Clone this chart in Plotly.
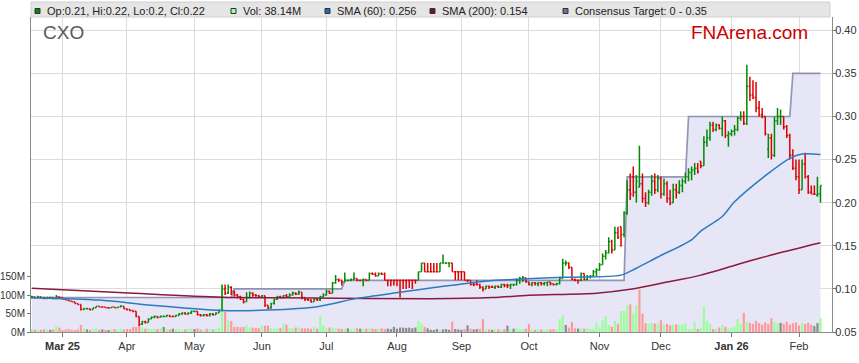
import pandas as pd
import plotly.graph_objects as go

# ---------------- data ----------------
dates = pd.bdate_range("2025-02-17", "2026-02-11")

opens = [
    .090, .091, .090, .091, .090, .089, .090, .090, .089, .091,
    .090, .088, .087, .086, .085, .083, .082, .076, .077, .077,
    .076, .078, .080, .079, .079, .078, .078, .079, .078, .079,
    .080, .077, .076, .075, .074, .068, .059, .062, .061, .065,
    .067, .068, .067, .068, .068, .069, .068, .068, .069, .071,
    .072, .071, .072, .074, .074, .070, .069, .070, .069, .071,
    .070, .072, .075, .100, .095, .102, .097, .093, .091, .088,
    .085, .090, .095, .093, .092, .091, .092, .081, .078, .083,
    .088, .091, .090, .092, .091, .093, .095, .094, .096, .090,
    .088, .087, .085, .088, .087, .091, .093, .097, .095, .107,
    .111, .110, .108, .110, .110, .111, .112, .110, .110, .111,
    .110, .118, .117, .115, .118, .117, .110, .110, .110, .110,
    .110, .110, .110, .110, .110, .110, .110, .120, .130, .120,
    .120, .120, .120, .120, .130, .130, .130, .130, .120, .120,
    .120, .120, .110, .110, .105, .105, .105, .102, .100, .103,
    .102, .102, .103, .102, .105, .104, .104, .105, .105, .110,
    .112, .113, .108, .105, .107, .106, .107, .106, .107, .108,
    .106, .105, .106, .112, .130, .130, .125, .111, .110, .110,
    .118, .111, .114, .115, .120, .122, .128, .138, .142, .155,
    .145, .165, .172, .163, .188, .215, .230, .212, .218, .222,
    .205, .200, .212, .225, .215, .228, .210, .222, .205, .200,
    .215, .212, .220, .225, .230, .235, .238, .240, .248, .243,
    .270, .275, .290, .285, .290, .286, .295, .278, .280, .283,
    .285, .298, .300, .292, .335, .325, .322, .310, .302, .300,
    .262, .275, .255, .295, .300, .300, .288, .278, .255, .240,
    .230, .215, .245, .230, .212, .210, .209, .210,
]
highs = [
    .092, .091, .092, .091, .091, .091, .091, .090, .093, .091,
    .090, .088, .087, .086, .085, .083, .082, .078, .078, .077,
    .078, .080, .080, .080, .079, .079, .079, .079, .079, .081,
    .080, .077, .076, .075, .074, .068, .063, .063, .066, .068,
    .069, .068, .069, .069, .070, .069, .069, .070, .072, .073,
    .073, .073, .075, .075, .074, .071, .071, .071, .072, .072,
    .073, .076, .105, .105, .105, .103, .098, .094, .092, .089,
    .096, .097, .096, .094, .093, .093, .092, .081, .084, .089,
    .092, .092, .093, .094, .095, .097, .096, .098, .096, .090,
    .089, .088, .089, .089, .092, .095, .099, .098, .108, .116,
    .112, .111, .119, .111, .112, .119, .112, .111, .112, .111,
    .119, .119, .119, .119, .119, .119, .111, .111, .110, .110,
    .110, .110, .110, .110, .110, .111, .120, .130, .130, .130,
    .130, .130, .130, .130, .140, .131, .130, .130, .120, .120,
    .120, .120, .111, .110, .108, .110, .106, .103, .104, .104,
    .104, .104, .104, .106, .106, .106, .106, .106, .112, .114,
    .115, .113, .108, .108, .108, .108, .108, .108, .108, .108,
    .106, .107, .114, .135, .133, .131, .125, .112, .111, .119,
    .118, .116, .116, .122, .124, .130, .141, .145, .160, .157,
    .172, .172, .172, .190, .226, .234, .242, .232, .266, .234,
    .212, .215, .232, .234, .232, .230, .228, .225, .215, .222,
    .222, .226, .228, .235, .240, .242, .246, .246, .248, .277,
    .285, .294, .294, .292, .291, .300, .296, .283, .285, .290,
    .300, .306, .306, .360, .346, .342, .340, .318, .310, .300,
    .280, .280, .300, .310, .308, .300, .290, .280, .262, .250,
    .250, .250, .258, .232, .220, .220, .230, .220,
]
lows = [
    .089, .089, .089, .089, .088, .089, .089, .088, .088, .089,
    .088, .087, .086, .085, .083, .082, .075, .076, .076, .075,
    .076, .078, .079, .078, .078, .077, .078, .078, .078, .079,
    .077, .075, .074, .073, .067, .057, .058, .060, .061, .065,
    .066, .066, .067, .067, .068, .067, .067, .068, .069, .070,
    .070, .070, .071, .073, .069, .068, .068, .068, .068, .069,
    .070, .072, .074, .093, .094, .093, .091, .089, .087, .083,
    .085, .089, .091, .091, .090, .090, .079, .076, .077, .082,
    .087, .089, .089, .090, .090, .092, .093, .093, .088, .086,
    .086, .084, .085, .086, .086, .090, .092, .094, .095, .106,
    .108, .104, .108, .109, .109, .110, .109, .109, .103, .109,
    .110, .116, .114, .115, .116, .110, .103, .103, .104, .103,
    .090, .100, .100, .101, .100, .106, .110, .120, .120, .120,
    .120, .120, .120, .120, .130, .129, .125, .120, .110, .110,
    .110, .110, .108, .104, .103, .104, .100, .097, .100, .100,
    .101, .100, .101, .101, .102, .101, .100, .103, .104, .106,
    .108, .107, .104, .103, .104, .103, .104, .104, .103, .104,
    .104, .104, .105, .112, .127, .123, .110, .109, .106, .109,
    .110, .110, .112, .114, .115, .121, .128, .134, .141, .141,
    .145, .158, .149, .160, .186, .203, .207, .200, .218, .200,
    .195, .198, .208, .210, .212, .205, .208, .200, .197, .200,
    .205, .210, .212, .222, .225, .226, .232, .234, .240, .243,
    .265, .272, .282, .283, .285, .277, .275, .265, .277, .278,
    .283, .295, .290, .290, .318, .320, .305, .300, .298, .278,
    .252, .250, .253, .290, .290, .285, .275, .250, .238, .226,
    .210, .215, .228, .210, .210, .209, .207, .200,
]
closes = [
    .091, .090, .091, .090, .089, .090, .090, .089, .091, .090,
    .088, .087, .086, .085, .083, .082, .076, .077, .077, .076,
    .078, .080, .079, .079, .078, .078, .079, .078, .079, .080,
    .077, .076, .075, .074, .068, .059, .062, .061, .065, .067,
    .068, .067, .068, .068, .069, .068, .068, .069, .071, .072,
    .071, .072, .074, .074, .070, .069, .070, .069, .071, .070,
    .072, .075, .100, .095, .102, .097, .093, .091, .088, .085,
    .090, .095, .093, .092, .091, .092, .081, .078, .083, .088,
    .091, .090, .092, .091, .093, .095, .094, .096, .090, .088,
    .087, .085, .088, .087, .091, .093, .097, .095, .107, .111,
    .110, .108, .110, .110, .111, .112, .110, .110, .111, .110,
    .118, .117, .115, .118, .117, .110, .110, .110, .110, .110,
    .110, .110, .110, .110, .110, .110, .120, .130, .120, .120,
    .120, .120, .120, .130, .130, .130, .130, .120, .120, .120,
    .120, .110, .110, .105, .105, .105, .102, .100, .103, .102,
    .102, .103, .102, .105, .104, .104, .105, .105, .110, .112,
    .113, .108, .105, .107, .106, .107, .106, .107, .108, .106,
    .105, .106, .112, .130, .130, .125, .111, .110, .110, .118,
    .111, .114, .115, .120, .122, .128, .138, .142, .155, .145,
    .165, .160, .163, .188, .215, .210, .212, .225, .222, .205,
    .200, .212, .225, .215, .228, .210, .222, .205, .200, .215,
    .212, .220, .225, .230, .235, .238, .240, .236, .243, .270,
    .275, .290, .285, .290, .286, .295, .278, .280, .283, .285,
    .298, .300, .292, .335, .325, .322, .310, .302, .300, .280,
    .275, .255, .295, .300, .300, .288, .278, .255, .240, .230,
    .215, .245, .230, .212, .210, .210, .210, .220,
]
volumes_m = [
    8, 6, 5, 6, 7, 5, 6, 7, 16, 12,
    6, 7, 8, 6, 5, 7, 19, 9, 7, 6,
    8, 9, 6, 7, 6, 5, 7, 8, 6, 9,
    7, 8, 8, 14, 14, 19, 12, 9, 10, 8,
    9, 8, 10, 14, 8, 7, 9, 8, 7, 6,
    7, 8, 9, 8, 10, 7, 6, 9, 8, 7,
    8, 12, 127, 55, 32, 30, 14, 14, 13, 14,
    19, 12, 12, 11, 10, 17, 17, 17, 10, 10,
    10, 11, 23, 20, 11, 10, 12, 12, 10, 10,
    10, 9, 14, 9, 43, 19, 10, 12, 12, 10,
    9, 8, 9, 10, 8, 9, 10, 9, 8, 9,
    10, 9, 8, 9, 10, 8, 9, 8, 14, 9,
    12, 12, 11, 12, 10, 12, 30, 23, 14, 10,
    6, 5, 8, 6, 7, 8, 6, 28, 8, 7,
    6, 8, 18, 9, 7, 8, 9, 35, 8, 7,
    6, 8, 7, 6, 8, 17, 7, 9, 10, 8,
    8, 9, 22, 7, 6, 8, 7, 6, 8, 7,
    8, 7, 35, 46, 19, 12, 27, 10, 9, 10,
    9, 10, 8, 9, 25, 12, 32, 43, 19, 14,
    30, 22, 57, 57, 73, 75, 50, 73, 115, 50,
    24, 22, 25, 23, 22, 32, 20, 22, 18, 20,
    21, 19, 20, 22, 8, 8, 28, 8, 12, 68,
    30, 22, 8, 8, 12, 19, 14, 10, 12, 14,
    35, 22, 52, 28, 25, 22, 30, 24, 20, 26,
    22, 37, 28, 24, 25, 22, 28, 20, 24, 26,
    18, 24, 22, 25, 20, 16, 24, 38.14,
]

sma60_dates = ["2025-02-17", "2025-03-19", "2025-04-11", "2025-05-14", "2025-06-04",
               "2025-06-26", "2025-07-15", "2025-08-04", "2025-08-18", "2025-09-11",
               "2025-10-16", "2025-11-12", "2025-11-19", "2025-11-28", "2025-12-15",
               "2025-12-18", "2025-12-29", "2026-01-02", "2026-01-19", "2026-01-28",
               "2026-02-03", "2026-02-11"]
sma60_values = [0.0898, 0.087, 0.081, 0.075, 0.0755,
                0.0794, 0.089, 0.096, 0.101, 0.109,
                0.1135, 0.116, 0.124, 0.137, 0.157,
                0.167, 0.184, 0.201, 0.234, 0.2515,
                0.2565, 0.256]

sma200_dates = ["2025-02-17", "2025-03-31", "2025-05-14", "2025-06-23", "2025-08-18",
                "2025-09-15", "2025-10-01", "2025-10-31", "2025-11-17", "2025-12-01",
                "2025-12-18", "2026-01-12", "2026-01-26", "2026-02-11"]
sma200_values = [0.1007, 0.0955, 0.0903, 0.0895, 0.0887,
                 0.090, 0.0925, 0.095, 0.0995, 0.1065,
                 0.116, 0.1335, 0.143, 0.1536]

target_dates = ["2025-02-17", "2025-05-19", "2025-05-20", "2025-07-08", "2025-07-09",
                "2025-11-13", "2025-11-14", "2025-12-11", "2025-12-12", "2026-01-28",
                "2026-01-29", "2026-02-11"]
target_values = [0.09, 0.09, 0.10, 0.10, 0.11,
                 0.11, 0.23, 0.23, 0.30, 0.30,
                 0.35, 0.35]

price_ticks = [0.05, 0.10, 0.15, 0.20, 0.25, 0.30, 0.35, 0.40]
vol_ticks = [0, 50, 100, 150]
vol_tick_labels = ["0M", "50M", "100M", "150M"]
month_ticks = ["2025-03-03", "2025-04-01", "2025-05-01", "2025-06-02", "2025-07-01",
               "2025-08-01", "2025-09-01", "2025-10-01", "2025-11-03", "2025-12-01",
               "2026-01-01", "2026-02-02"]
month_labels = ["<b>Mar 25</b>", "Apr", "May", "Jun", "Jul", "Aug", "Sep", "Oct",
                "Nov", "Dec", "<b>Jan 26</b>", "Feb"]

n = len(dates)
for name, arr in [("opens", opens), ("highs", highs), ("lows", lows),
                  ("closes", closes), ("volumes_m", volumes_m)]:
    if len(arr) != n:
        raise ValueError(f"{name} has {len(arr)} values, expected {n}")

# ---------------- styling ----------------
FONT = "Arial, Liberation Sans, sans-serif"
UP = "#008a00"
DOWN = "#dd0000"
VOL_UP = "#99ff99"
VOL_DOWN = "#ff9999"
VOL_FLAT = "#8a8a8a"

vol_colors = []
for i in range(n):
    prev = closes[i - 1] if i > 0 else opens[0]
    if closes[i] > prev + 1e-9:
        vol_colors.append(VOL_UP)
    elif closes[i] < prev - 1e-9:
        vol_colors.append(VOL_DOWN)
    else:
        vol_colors.append(VOL_FLAT)

fig = go.Figure()

fig.add_trace(go.Scatter(
    x=target_dates, y=target_values, mode="lines", yaxis="y",
    line=dict(color="rgba(110,110,158,0.7)", width=1.7),
    fill="tozeroy", fillcolor="#e6e6f6", hoverinfo="skip", showlegend=False))

fig.add_trace(go.Bar(
    x=dates, y=volumes_m, yaxis="y2", marker=dict(color=vol_colors, line=dict(width=0)),
    hoverinfo="skip", showlegend=False))

fig.add_trace(go.Scatter(
    x=sma200_dates, y=sma200_values, mode="lines", yaxis="y3",
    line=dict(color="#8b1a40", width=1.5, shape="spline", smoothing=0.8),
    hoverinfo="skip", showlegend=False))

fig.add_trace(go.Scatter(
    x=sma60_dates, y=sma60_values, mode="lines", yaxis="y3",
    line=dict(color="#2a7cc0", width=1.5, shape="spline", smoothing=0.8),
    hoverinfo="skip", showlegend=False))

fig.add_trace(go.Ohlc(
    x=dates, open=opens, high=highs, low=lows, close=closes, yaxis="y3",
    increasing=dict(line=dict(color=UP, width=1.5)),
    decreasing=dict(line=dict(color=DOWN, width=1.5)),
    tickwidth=0.4, hoverinfo="skip", showlegend=False))

W, H = 859, 363
L, R, T, B = 31, 27, 17, 31
PW, PH = W - L - R, H - T - B
p_lo = 0.05
p_hi = 0.05 + PH / 862.0
v_hi = PH / 18.43 * 50.0


def px(xp):
    return (xp - L) / PW


def py(yp):
    return (H - B - yp) / PH


fig.update_layout(
    width=W, height=H,
    margin=dict(l=L, r=R, t=T, b=B, pad=0, autoexpand=False),
    paper_bgcolor="white", plot_bgcolor="white",
    font=dict(family=FONT, size=11, color="#333333"),
    bargap=0.3, showlegend=False, hovermode=False,
    xaxis=dict(
        type="date", automargin=False,
        range=["2025-02-14 18:00", "2026-02-16 18:00"],
        rangebreaks=[dict(bounds=["sat", "mon"])],
        tickmode="array", tickvals=month_ticks, ticktext=month_labels,
        showgrid=True, gridcolor="#dcdcdc", gridwidth=1,
        ticks="outside", ticklen=4, tickcolor="#777777",
        showline=True, linecolor="#8c8c8c", linewidth=1,
        tickfont=dict(size=11, color="#333333"), zeroline=False,
        rangeslider=dict(visible=False),
    ),
    yaxis=dict(
        side="right", range=[p_lo, p_hi], automargin=False,
        tickmode="array", tickvals=price_ticks,
        ticktext=[f"{v:.2f}" for v in price_ticks],
        showgrid=True, gridcolor="#dcdcdc", gridwidth=1,
        ticks="outside", ticklen=3, tickcolor="#777777",
        ticklabelstandoff=-3,
        showline=True, linecolor="#8c8c8c", linewidth=1,
        tickfont=dict(size=11, color="#333333"), zeroline=False,
    ),
    yaxis2=dict(
        overlaying="y", side="left", range=[0, v_hi], automargin=False,
        tickmode="array", tickvals=vol_ticks, ticktext=vol_tick_labels,
        showgrid=False, ticks="outside", ticklen=3, tickcolor="#777777",
        showline=True, linecolor="#8c8c8c", linewidth=1,
        tickfont=dict(size=10, color="#333333"), zeroline=False,
    ),
    yaxis3=dict(
        overlaying="y", side="right", range=[p_lo, p_hi], visible=False,
        automargin=False,
    ),
)

shapes = [
    dict(type="rect", xref="paper", yref="paper", x0=0, x1=px(830), y0=1, y1=py(2),
         fillcolor="#e5e5e5", line=dict(color="#d0d0d0", width=1), layer="above"),
]
legend_items = [
    (35, UP, f"Op:{opens[-1]:g}, Hi:{highs[-1]:g}, Lo:{lows[-1]:g}, Cl:{closes[-1]:g}"),
    (231, VOL_UP, f"Vol: {volumes_m[-1]:.2f}M"),
    (325, "#1f6cb0", f"SMA (60): {sma60_values[-1]:.3f}"),
    (430, "#7a0f30", f"SMA (200): {sma200_values[-1]:.3f}"),
    (563, "#6e6e9e", "Consensus Target: 0 - 0.35"),
]
annotations = []
for xpos, col, label in legend_items:
    shapes.append(dict(type="rect", xref="paper", yref="paper",
                       x0=px(xpos), x1=px(xpos + 5), y0=py(13.5), y1=py(8.5),
                       fillcolor=col, line=dict(color="#333333", width=1), layer="above"))
    annotations.append(dict(xref="paper", yref="paper", x=px(xpos + 10), y=py(10.5),
                            xanchor="left", yanchor="middle", showarrow=False,
                            text=label, font=dict(family=FONT, size=11, color="#222222")))

annotations.append(dict(xref="paper", yref="paper", x=px(41), y=py(32.5),
                        xanchor="left", yanchor="middle", showarrow=False, text="CXO",
                        font=dict(family=FONT, size=19, color="#5a5a5a")))
annotations.append(dict(xref="paper", yref="paper", x=px(689), y=py(32.5),
                        xanchor="left", yanchor="middle", showarrow=False, text="FNArena.com",
                        font=dict(family=FONT, size=19, color="#cc0000")))

fig.update_layout(shapes=shapes, annotations=annotations)

fig.write_html(
    "out.html",
    config={"displayModeBar": False},
    post_script="document.body.style.margin='0';document.body.style.overflow='hidden';",
)
